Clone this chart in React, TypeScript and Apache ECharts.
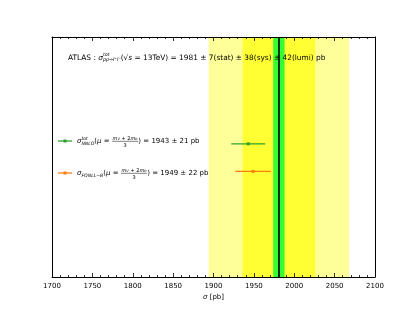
import React, { useEffect, useRef } from "react";
import * as echarts from "echarts";

// Measurement (pb)
const measured = 1981;
const statErr = 7;
const sysErr = 38;
const lumiErr = 42;

// Theory predictions
const theoryNames = ["NNLO", "FONLL-B"];
const theoryValues = [1943, 1949];
const theoryErrors = [21, 22];
const theoryRows = [0.555, 0.44];
const theoryColors = ["#2ca02c", "#ff7f0e"];

// x-axis
const xMin = 1700;
const xMax = 2100;
const xStep = 50;

const FONT = '"DejaVu Sans", sans-serif';

type Piece =
  | { k: "t"; text: string; size: number; italic?: boolean; dy?: number }
  | { k: "stack"; sup?: string; sub?: string; size: number }
  | { k: "frac"; num: Piece[]; den: Piece[] };

let measureCtx: CanvasRenderingContext2D | null = null;
function tw(text: string, size: number, italic?: boolean) {
  if (!measureCtx) measureCtx = document.createElement("canvas").getContext("2d");
  measureCtx!.font = `${italic ? "italic " : ""}${size}px ${FONT}`;
  return measureCtx!.measureText(text).width;
}

function txt(text: string, x: number, y: number, size: number, italic?: boolean) {
  return {
    type: "text",
    x,
    y,
    z: 100,
    silent: true,
    style: {
      text,
      fill: "#000",
      font: `${italic ? "italic " : ""}${size}px ${FONT}`,
      align: "left",
      verticalAlign: "middle",
    },
  };
}

function measure(pieces: Piece[]): number {
  let w = 0;
  for (const p of pieces) {
    if (p.k === "t") w += tw(p.text, p.size, p.italic);
    else if (p.k === "stack")
      w += Math.max(p.sup ? tw(p.sup, p.size, true) : 0, p.sub ? tw(p.sub, p.size, true) : 0);
    else w += Math.max(measure(p.num), measure(p.den)) + 1.5;
  }
  return w;
}

function layout(pieces: Piece[], x0: number, y: number, out: any[]): number {
  let x = x0;
  for (const p of pieces) {
    if (p.k === "t") {
      out.push(txt(p.text, x, y + (p.dy || 0), p.size, p.italic));
      x += tw(p.text, p.size, p.italic);
    } else if (p.k === "stack") {
      let w = 0;
      if (p.sup) {
        out.push(txt(p.sup, x, y - 3, p.size, true));
        w = Math.max(w, tw(p.sup, p.size, true));
      }
      if (p.sub) {
        out.push(txt(p.sub, x, y + 2.5, p.size, true));
        w = Math.max(w, tw(p.sub, p.size, true));
      }
      x += w;
    } else {
      const wn = measure(p.num);
      const wd = measure(p.den);
      const W = Math.max(wn, wd) + 1.5;
      layout(p.num, x + (W - wn) / 2, y - 3.3, out);
      layout(p.den, x + (W - wd) / 2, y + 3.6, out);
      out.push({
        type: "line",
        z: 100,
        silent: true,
        shape: { x1: x + 0.3, y1: y + 0.3, x2: x + W - 0.3, y2: y + 0.3 },
        style: { stroke: "#000", lineWidth: 0.5 },
      });
      x += W;
    }
  }
  return x - x0;
}

const fracPieces: Piece[] = [
  {
    k: "frac",
    num: [
      { k: "t", text: "m", size: 5, italic: true },
      { k: "t", text: "V", size: 3.6, italic: true, dy: 1 },
      { k: "t", text: " + 2", size: 5 },
      { k: "t", text: "m", size: 5, italic: true },
      { k: "t", text: "b", size: 3.6, italic: true, dy: 1 },
    ],
    den: [{ k: "t", text: "3", size: 5 }],
  },
];

const TS = 7.4;
const titlePieces: Piece[] = [
  { k: "t", text: "ATLAS : ", size: TS },
  { k: "t", text: "σ", size: TS, italic: true },
  { k: "stack", sup: "tot", sub: "pp→l⁺l⁻", size: 4.8 },
  { k: "t", text: "(√", size: TS },
  { k: "t", text: "s", size: TS, italic: true },
  {
    k: "t",
    text: ` = 13TeV) = ${measured} ± ${statErr}(stat) ± ${sysErr}(sys) ± ${lumiErr}(lumi) pb`,
    size: TS,
  },
];

function legendPieces(i: number): Piece[] {
  const head: Piece[] =
    i === 0
      ? [
          { k: "t", text: "σ", size: 7, italic: true },
          { k: "stack", sup: "tot", sub: theoryNames[i], size: 4.6 },
        ]
      : [
          { k: "t", text: "σ", size: 7, italic: true },
          { k: "t", text: theoryNames[i].replace("-", "−"), size: 4.6, italic: true, dy: 2 },
        ];
  return [
    ...head,
    { k: "t", text: "(", size: 7 },
    { k: "t", text: "μ", size: 7, italic: true },
    { k: "t", text: " = ", size: 7 },
    ...fracPieces,
    { k: "t", text: `) = ${theoryValues[i]} ± ${theoryErrors[i]} pb`, size: 7 },
  ];
}

export default function App() {
  const ref = useRef<HTMLDivElement>(null);
  useEffect(() => {
    if (!ref.current) return;
    const chart = echarts.init(ref.current, undefined, { renderer: "svg" });

    const graphics: any[] = [];
    const titleEls: any[] = [];
    layout(titlePieces, 68, 57, titleEls);
    graphics.push(...titleEls);

    const legendY = [141, 173];
    theoryNames.forEach((_, i) => {
      const y = legendY[i];
      graphics.push({
        type: "line",
        z: 100,
        silent: true,
        shape: { x1: 58, y1: y, x2: 72, y2: y },
        style: { stroke: theoryColors[i], lineWidth: 1.3 },
      });
      graphics.push({
        type: "rect",
        z: 100,
        silent: true,
        shape: { x: 63.5, y: y - 1.5, width: 3, height: 3 },
        style: { fill: theoryColors[i] },
      });
      const els: any[] = [];
      layout(legendPieces(i), 77, y, els);
      graphics.push(...els);
    });

    const e1 = statErr;
    const e2 = statErr + sysErr;
    const e3 = statErr + sysErr + lumiErr;

    const barData = theoryNames.map((_, i) => [theoryValues[i], theoryRows[i], theoryErrors[i], i]);

    const tickStyle = { color: "#000", width: 0.8 };

    chart.setOption({
      animation: false,
      grid: { left: 52, right: 42, top: 37, bottom: 36 },
      xAxis: [
        {
          type: "value",
          z: 10,
          min: xMin,
          max: xMax,
          interval: xStep,
          position: "bottom",
          axisLine: { show: true, lineStyle: { color: "#000", width: 1 } },
          axisTick: { show: true, inside: true, length: 4, lineStyle: tickStyle },
          minorTick: { show: true, splitNumber: 5, length: 2, lineStyle: tickStyle },
          splitLine: { show: false },
          axisLabel: {
            color: "#000",
            fontSize: 7,
            fontFamily: FONT,
            margin: 5,
            formatter: (v: number) => String(v),
          },
          name: "{i|σ} [pb]",
          nameLocation: "middle",
          nameGap: 12,
          nameTextStyle: {
            color: "#000",
            fontSize: 7,
            fontFamily: FONT,
            rich: { i: { fontStyle: "italic", fontSize: 7, fontFamily: FONT } },
          },
        },
        {
          type: "value",
          z: 10,
          gridIndex: 0,
          min: xMin,
          max: xMax,
          interval: xStep,
          position: "top",
          axisLine: { show: true, onZero: false, lineStyle: { color: "#000", width: 1 } },
          axisTick: { show: true, inside: true, length: 4, lineStyle: tickStyle },
          minorTick: { show: true, splitNumber: 5, length: 2, lineStyle: tickStyle },
          splitLine: { show: false },
          axisLabel: { show: false },
        },
      ],
      yAxis: [
        {
          type: "value",
          z: 10,
          min: 0,
          max: 1,
          position: "left",
          axisLine: { show: true, onZero: false, lineStyle: { color: "#000", width: 1 } },
          axisTick: { show: false },
          axisLabel: { show: false },
          splitLine: { show: false },
        },
        {
          type: "value",
          z: 10,
          min: 0,
          max: 1,
          position: "right",
          axisLine: { show: true, onZero: false, lineStyle: { color: "#000", width: 1 } },
          axisTick: { show: false },
          axisLabel: { show: false },
          splitLine: { show: false },
        },
      ],
      series: [
        {
          type: "line",
          data: [],
          silent: true,
          markArea: {
            silent: true,
            data: [
              [{ xAxis: measured - e3, itemStyle: { color: "#ffff99" } }, { xAxis: measured + e3 }],
              [{ xAxis: measured - e2, itemStyle: { color: "#ffff33" } }, { xAxis: measured + e2 }],
              [{ xAxis: measured - e1, itemStyle: { color: "#33ff33" } }, { xAxis: measured + e1 }],
            ],
          },
          markLine: {
            silent: true,
            symbol: "none",
            label: { show: false },
            lineStyle: { color: "#000", width: 1.6, type: "solid" },
            data: [{ xAxis: measured }],
          },
        },
        {
          type: "custom",
          data: barData,
          silent: true,
          z: 5,
          renderItem: (params: any, api: any) => {
            const v = api.value(0);
            const y = api.value(1);
            const e = api.value(2);
            const idx = api.value(3);
            const c = theoryColors[idx];
            const pL = api.coord([v - e, y]);
            const pR = api.coord([v + e, y]);
            const pC = api.coord([v, y]);
            return {
              type: "group",
              children: [
                {
                  type: "line",
                  shape: { x1: pL[0], y1: pL[1], x2: pR[0], y2: pR[1] },
                  style: { stroke: c, lineWidth: 1.3 },
                },
                {
                  type: "rect",
                  shape: { x: pC[0] - 1.5, y: pC[1] - 1.5, width: 3, height: 3 },
                  style: { fill: c },
                },
              ],
            };
          },
        },
      ],
      graphic: graphics,
    });
    return () => chart.dispose();
  }, []);
  return (
    <div
      ref={ref}
      style={{ position: "fixed", left: 0, top: 0, width: 417, height: 313 }}
    />
  );
}
